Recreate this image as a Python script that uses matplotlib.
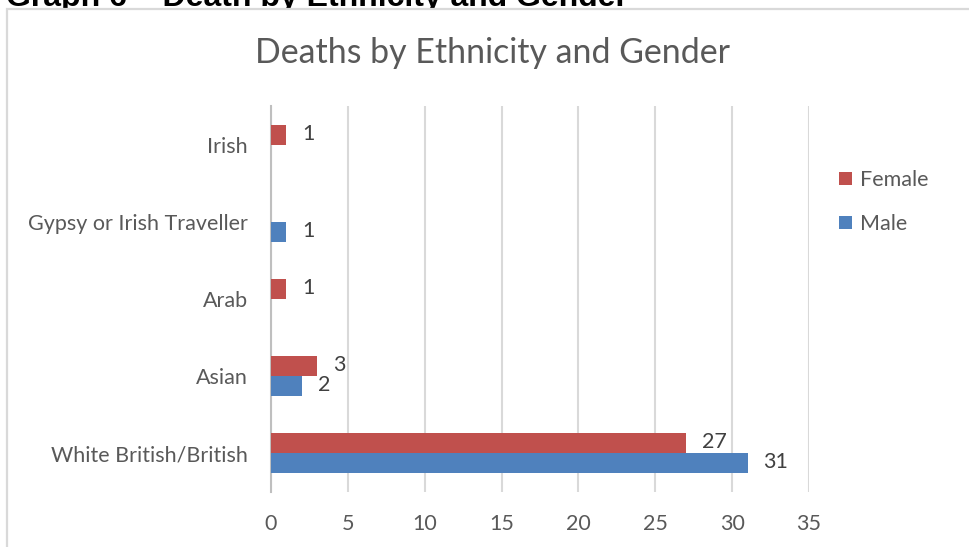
import matplotlib
matplotlib.use("Agg")
import matplotlib.pyplot as plt
import numpy as np
from matplotlib.patches import Rectangle

# deaths by ethnicity, bottom to top as drawn
groups = ["White British/British", "Asian", "Arab", "Gypsy or Irish Traveller", "Irish"]
female = [27, 3, 1, 0, 1]
male = [31, 2, 0, 1, 0]
xticks = [0, 5, 10, 15, 20, 25, 30, 35]

RED = "#C0504D"
BLUE = "#4F81BD"
TXT = "#595959"
GRID = "#D9D9D9"
FONT = "Lato"
FS = 15.5

W, H = 970, 547
fig = plt.figure(figsize=(W / 100, H / 100), dpi=100)


def px(x, y):
    return x / W, 1 - y / H


# document caption sitting above the chart frame (mostly hidden behind it)
fig.text(*px(6, 6), "Graph 6 \u2013 Death by Ethnicity and Gender", family="Liberation Sans",
         fontweight="bold", fontsize=23, color="black", ha="left", va="baseline", zorder=0.5)

# chart frame: white box with light grey border, runs off the right/bottom edges
x0, y0 = px(7, 9)
fig.add_artist(Rectangle((x0, -0.1), 1.2, y0 + 0.1, transform=fig.transFigure,
                         facecolor="white", edgecolor=GRID, lw=1.6, zorder=1))

l, b = px(271, 491.5)
r, t = px(809, 106.5)
ax = fig.add_axes([l, b, r - l, t - b])
ax.set_zorder(2)
ax.patch.set_alpha(0)

y = np.arange(len(groups))
bh = 0.26
bf = ax.barh(y + bh / 2, female, height=bh, color=RED, lw=0, label="Female", zorder=3)
bm = ax.barh(y - bh / 2, male, height=bh, color=BLUE, lw=0, label="Male", zorder=3)

for bars, vals in ((bf, female), (bm, male)):
    for rect, v in zip(bars, vals):
        if v == 0:
            continue
        ax.annotate(str(v), (v, rect.get_y() + rect.get_height() / 2),
                    xytext=(16, 1), textcoords="offset pixels", ha="left", va="center",
                    family=FONT, fontsize=FS, color="#404040")

ax.set_xlim(0, 35)
ax.set_ylim(-0.5, len(groups) - 0.5)
ax.set_xticks(xticks)
ax.set_yticks(y)
ax.set_yticklabels(groups)
ax.tick_params(length=0, labelsize=FS, labelcolor=TXT)
ax.tick_params(axis="y", pad=16.5)
ax.tick_params(axis="x", pad=16)
for lab in ax.get_xticklabels() + ax.get_yticklabels():
    lab.set_family(FONT)
ax.grid(axis="x", color=GRID, lw=1.5, zorder=0)
ax.set_axisbelow(True)
for s in ("top", "right", "bottom"):
    ax.spines[s].set_visible(False)
ax.spines["left"].set_color("#BFBFBF")
ax.spines["left"].set_linewidth(1.5)

fig.text(*px(493, 53), "Deaths by Ethnicity and Gender", family=FONT, fontsize=24.4,
         color=TXT, ha="center", va="center", zorder=3)

leg = fig.legend(handles=[bf, bm], loc="center left", bbox_to_anchor=px(820, 202),
                 frameon=False, prop={"family": FONT, "size": FS}, labelcolor=TXT,
                 handlelength=0.58, handleheight=0.58, handletextpad=0.4, labelspacing=1.1)
leg.set_zorder(3)

fig.savefig("out.png", dpi=100)
